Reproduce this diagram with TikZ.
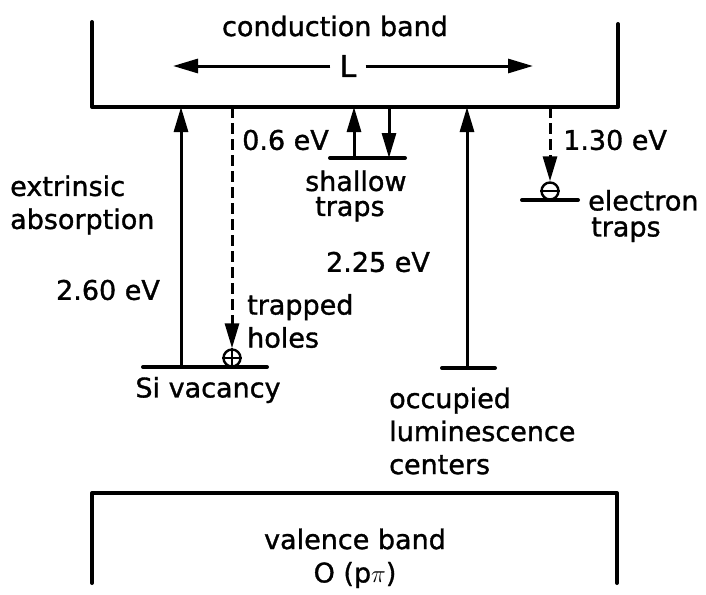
\documentclass[tikz,border=0pt]{standalone}
\usepackage{fontspec}
\setmainfont{DejaVu Sans}[BoldFont={DejaVu Sans}, BoldFeatures={FakeBold=1.2}]
\usetikzlibrary{arrows.meta}
\tikzset{
  lbl/.style={inner sep=0pt, font=\fontsize{27}{33}\selectfont\bfseries},
  band/.style={line width=4pt, line join=round, line cap=round},
  lvl/.style={line width=4pt, line cap=round},
  arr/.style={line width=3pt, -{Triangle[length=25pt,width=14pt]}},
  darr/.style={arr, dash pattern=on 11pt off 5pt},
  trapc/.style={circle, draw, line width=2.4pt, minimum size=17pt, inner sep=0pt}
}
\begin{document}
\begin{tikzpicture}[x=1pt,y=-1pt]
\useasboundingbox (0,0) rectangle (706,594);
% conduction band
\draw[band] (92,22) -- (92,107) -- (618,107) -- (618,24);
\node[lbl] (cb) at (335,26) {conduction band};
\node[lbl, inner sep=9pt, font=\fontsize{30}{33}\selectfont\bfseries] (L) at (348,66) {L};
\coordinate (Lleft) at (173,66);
\coordinate (Lright) at (533,66);
\draw[arr] (L.west) -- (Lleft);
\draw[arr] (L.east) -- (Lright);
% valence band
\draw[band] (92,583) -- (92,493) -- (617,493) -- (617,583);
\node[lbl] (vb) at (355,539) {valence band};
\node[lbl] (opi) at (355,575) {O (p$\pi$)};
% Si vacancy
\coordinate (siL) at (143,367);
\coordinate (siR) at (267,367);
\draw[lvl] (siL) -- (siR);
\coordinate (siA) at (181,367);
\coordinate (cbA) at (181,107);
\draw[arr] (siA) -- (cbA);
\node[lbl, anchor=west, align=left] (ext) at (10,205) {extrinsic\\absorption};
\node[lbl] (e260) at (108,290) {2.60 eV};
\node[lbl] (siv) at (208,390) {Si vacancy};
% trapped holes
\node[trapc] (hole) at (232,358) {};
\draw[line width=2pt] (hole.north) -- (hole.south) (hole.west) -- (hole.east);
\coordinate (cbH) at (232,107);
\draw[darr] (cbH) -- (hole.north);
\node[lbl, anchor=west, align=left] (th) at (247,321) {trapped\\holes};
% shallow traps
\coordinate (shL) at (330,158);
\coordinate (shR) at (405,158);
\draw[lvl] (shL) -- (shR);
\coordinate (shU) at (354,158);
\coordinate (cbS1) at (354,107);
\coordinate (cbS2) at (389,107);
\coordinate (shD) at (389,158);
\draw[arr] (shU) -- (cbS1);
\draw[arr] (cbS2) -- (shD);
\node[lbl, anchor=west] (e06) at (242,140) {0.6 eV};
\node[lbl, anchor=west, align=left] (sht) at (305,196) {shallow\\[-8pt]\hspace*{10pt}traps};
% electron traps
\coordinate (etL) at (522,200);
\coordinate (etR) at (578,200);
\draw[lvl] (etL) -- (etR);
\node[trapc] (elec) at (550,191) {};
\draw[line width=2pt] (elec.west) -- (elec.east);
\coordinate (cbE) at (550,107);
\draw[darr] (cbE) -- (elec.north);
\node[lbl, anchor=west] (e130) at (563,140) {1.30 eV};
\node[lbl, anchor=west, align=left] (ett) at (588,216) {electron\\[-7pt]\hspace*{3pt}traps};
% luminescence centers
\coordinate (lcL) at (442,368);
\coordinate (lcR) at (495,368);
\draw[lvl] (lcL) -- (lcR);
\coordinate (lcA) at (467,368);
\coordinate (cbL) at (467,107);
\draw[arr] (lcA) -- (cbL);
\node[lbl] (e225) at (378,262) {2.25 eV};
\node[lbl, anchor=west, align=left] (olc) at (389,431) {occupied\\luminescence\\centers};
\end{tikzpicture}
\end{document}
